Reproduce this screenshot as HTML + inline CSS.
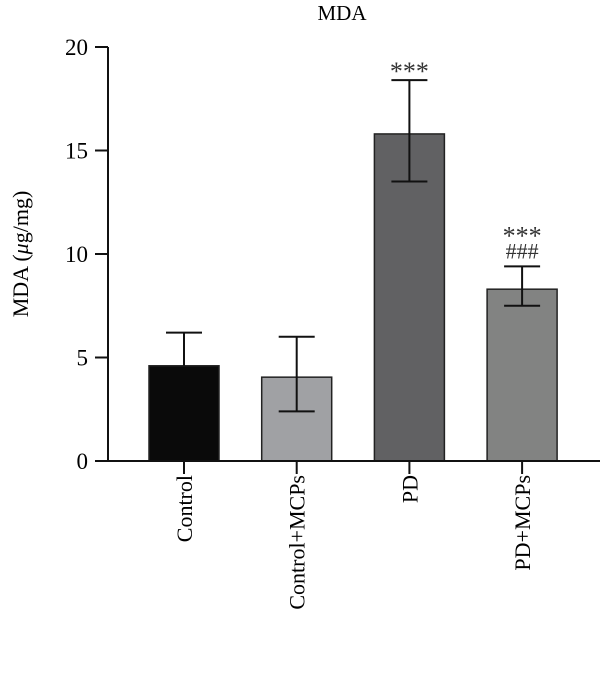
<!DOCTYPE html>
<html><head><meta charset="utf-8"><style>body{margin:0;background:#fff}svg{display:block;font-family:"Liberation Serif",serif}</style></head>
<body>
<svg width="600" height="692" id="c">
<text x="342" y="20" text-anchor="middle" font-size="21">MDA</text>
<text transform="translate(28,254) rotate(-90)" text-anchor="middle" font-size="22">MDA (<tspan font-style="italic">μ</tspan>g/mg)</text>
</svg>
<script>
const categories=["Control","Control+MCPs","PD","PD+MCPs"];
const values=[4.6,4.05,15.8,8.3];
const errHigh=[6.2,6.0,18.4,9.4];
const errLow=[4.6,2.4,13.5,7.5];
const colors=["#0a0a0a","#a0a1a4","#616163","#828382"];
const yTicks=[0,5,10,15,20];
const annotations=[[],[],["***"],["***","###"]];
const svg=document.getElementById('c');const NS="http://www.w3.org/2000/svg";
const y0=461,y1=47,xL=108,xR=600;
const y=v=>y0-(v/20)*(y0-y1);
const x=i=>184+i*112.7;
function mk(t,a,p){const e=document.createElementNS(NS,t);for(const k in a)e.setAttribute(k,a[k]);(p||svg).appendChild(e);return e;}
categories.forEach((c,i)=>{
 const b=mk('rect',{x:x(i)-35,y:y(values[i]),width:70,height:y0-y(values[i]),fill:colors[i],stroke:'#222','stroke-width':1.5});
 
 
 const g=mk('g',{stroke:'#111','stroke-width':2});
 
 
 mk('line',{x1:x(i),x2:x(i),y1:y(errHigh[i]),y2:y(errLow[i])},g);
 mk('line',{x1:x(i)-18,x2:x(i)+18,y1:y(errHigh[i]),y2:y(errHigh[i])},g);
 if(errLow[i]<values[i])mk('line',{x1:x(i)-18,x2:x(i)+18,y1:y(errLow[i]),y2:y(errLow[i])},g);
 const tk=mk('line',{x1:x(i),x2:x(i),y1:y0,y2:y0+13,stroke:'#111','stroke-width':2});
 
 
 const t=mk('text',{transform:`translate(${x(i)+8},475) rotate(-90)`,'text-anchor':'end','font-size':22});
 t.textContent=c;
 
 
 annotations[i].forEach((s,j)=>{
  const n=annotations[i].length;
  const a=mk('text',{x:x(i),y:y(errHigh[i])-8-(n-1-j)*22+(s=="***"?8:0),'text-anchor':'middle','font-size':s=="***"?26:22,fill:'#333'});
  a.textContent=s;
  
  
 });
});
yTicks.forEach(v=>{
 const l=mk('line',{x1:xL-13,x2:xL,y1:y(v),y2:y(v),stroke:'#111','stroke-width':2});
 
 
 const t=mk('text',{x:xL-20,y:y(v)+8,'text-anchor':'end','font-size':23});
 t.textContent=v;
 
 
});
const ax=mk('path',{d:`M${xL},${y1} V${y0} H${xR}`,fill:'none',stroke:'#111','stroke-width':2});


</script>
</body></html>
